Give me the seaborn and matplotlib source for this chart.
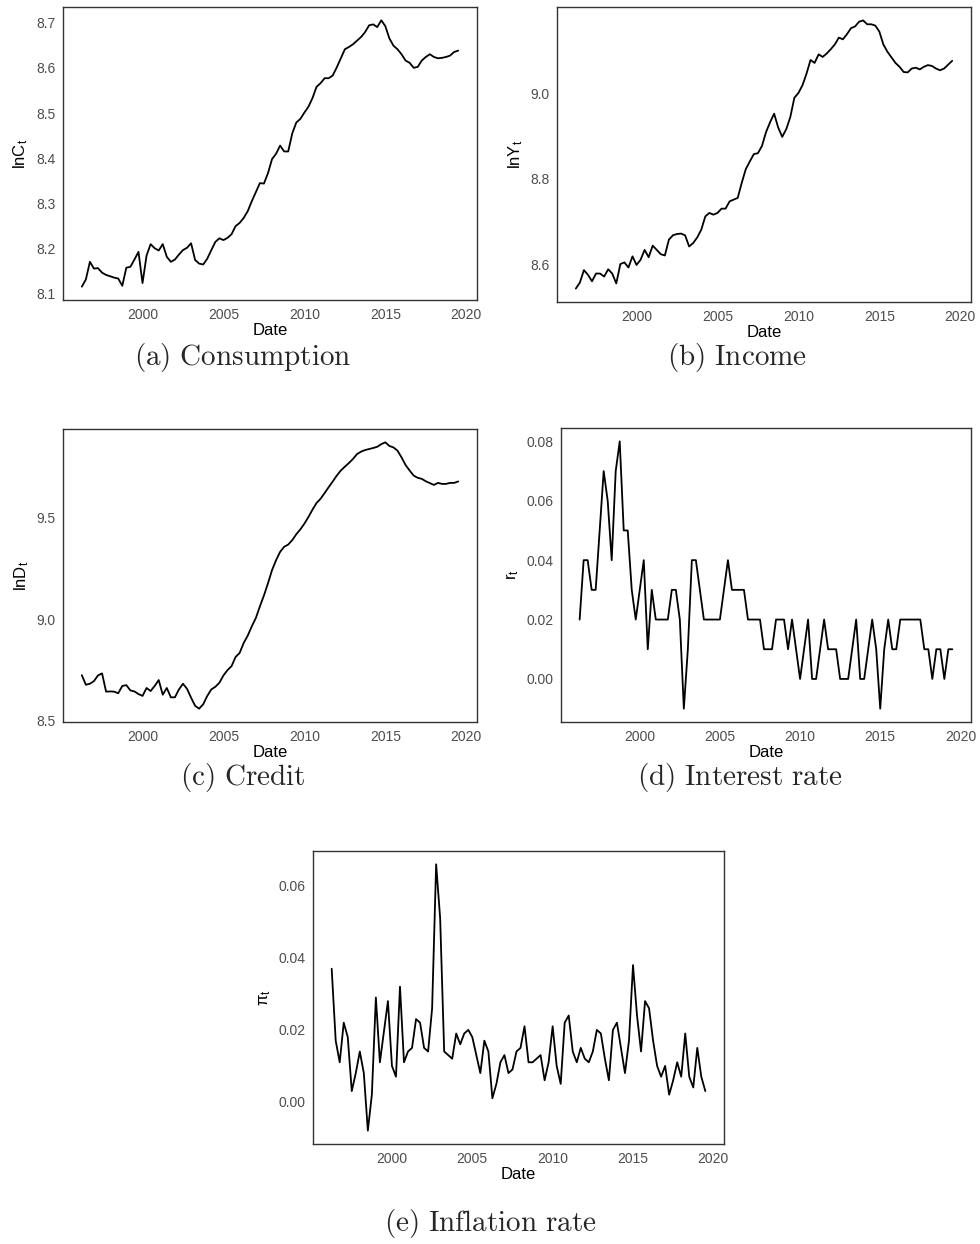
import numpy as np
import pandas as pd
import matplotlib
matplotlib.use("Agg")
import matplotlib.pyplot as plt
import seaborn as sns

# ---------------- data (quarterly, 1996 Q2 .. 2019 Q3) ----------------
n_q = 94
dates = [1996.25 + 0.25 * i for i in range(n_q)]

ln_c = [8.116, 8.132, 8.171, 8.156, 8.157, 8.147, 8.142, 8.139, 8.136, 8.134,
        8.118, 8.158, 8.160, 8.176, 8.193, 8.124, 8.185, 8.210, 8.201, 8.196,
        8.210, 8.182, 8.171, 8.176, 8.187, 8.197, 8.202, 8.212, 8.175, 8.167,
        8.165, 8.178, 8.197, 8.215, 8.223, 8.219, 8.224, 8.232, 8.250, 8.257,
        8.268, 8.283, 8.305, 8.325, 8.345, 8.344, 8.367, 8.398, 8.410, 8.428,
        8.415, 8.415, 8.455, 8.479, 8.487, 8.501, 8.514, 8.533, 8.558, 8.566,
        8.577, 8.577, 8.583, 8.601, 8.621, 8.641, 8.646, 8.652, 8.660, 8.668,
        8.679, 8.694, 8.696, 8.690, 8.705, 8.692, 8.665, 8.649, 8.641, 8.630,
        8.616, 8.611, 8.600, 8.602, 8.616, 8.624, 8.630, 8.624, 8.621, 8.622,
        8.624, 8.627, 8.635, 8.638]

ln_y = [8.545, 8.559, 8.588, 8.577, 8.562, 8.580, 8.580, 8.573, 8.590, 8.580,
        8.557, 8.602, 8.606, 8.594, 8.620, 8.600, 8.612, 8.635, 8.618, 8.645,
        8.635, 8.625, 8.622, 8.659, 8.669, 8.672, 8.673, 8.669, 8.643, 8.651,
        8.664, 8.682, 8.713, 8.721, 8.717, 8.721, 8.731, 8.731, 8.748, 8.752,
        8.756, 8.791, 8.823, 8.841, 8.858, 8.860, 8.877, 8.909, 8.932, 8.952,
        8.920, 8.898, 8.916, 8.944, 8.989, 9.000, 9.018, 9.045, 9.077, 9.070,
        9.090, 9.084, 9.092, 9.102, 9.113, 9.129, 9.125, 9.137, 9.151, 9.155,
        9.166, 9.169, 9.160, 9.160, 9.157, 9.143, 9.113, 9.096, 9.083, 9.070,
        9.061, 9.049, 9.048, 9.057, 9.059, 9.055, 9.061, 9.065, 9.063, 9.057,
        9.053, 9.057, 9.066, 9.075]

ln_d = [8.725, 8.678, 8.683, 8.696, 8.724, 8.734, 8.644, 8.645, 8.644, 8.636,
        8.672, 8.676, 8.650, 8.645, 8.632, 8.623, 8.662, 8.647, 8.672, 8.701,
        8.629, 8.662, 8.616, 8.616, 8.655, 8.683, 8.658, 8.614, 8.574, 8.560,
        8.582, 8.623, 8.655, 8.668, 8.688, 8.724, 8.750, 8.770, 8.815, 8.835,
        8.884, 8.920, 8.966, 9.007, 9.064, 9.118, 9.178, 9.243, 9.292, 9.333,
        9.358, 9.369, 9.391, 9.420, 9.444, 9.472, 9.505, 9.541, 9.574, 9.595,
        9.623, 9.652, 9.680, 9.709, 9.734, 9.753, 9.771, 9.791, 9.815, 9.827,
        9.835, 9.840, 9.845, 9.851, 9.864, 9.873, 9.855, 9.848, 9.832, 9.799,
        9.761, 9.734, 9.709, 9.698, 9.693, 9.681, 9.672, 9.663, 9.673, 9.668,
        9.668, 9.673, 9.673, 9.680]

r_t = [0.02, 0.04, 0.04, 0.03, 0.03, 0.05, 0.07, 0.06, 0.04, 0.07,
       0.08, 0.05, 0.05, 0.03, 0.02, 0.03, 0.04, 0.01, 0.03, 0.02,
       0.02, 0.02, 0.02, 0.03, 0.03, 0.02, -0.01, 0.01, 0.04, 0.04,
       0.03, 0.02, 0.02, 0.02, 0.02, 0.02, 0.03, 0.04, 0.03, 0.03,
       0.03, 0.03, 0.02, 0.02, 0.02, 0.02, 0.01, 0.01, 0.01, 0.02,
       0.02, 0.02, 0.01, 0.02, 0.01, 0.00, 0.01, 0.02, 0.00, 0.00,
       0.01, 0.02, 0.01, 0.01, 0.01, 0.00, 0.00, 0.00, 0.01, 0.02,
       0.00, 0.00, 0.01, 0.02, 0.01, -0.01, 0.01, 0.02, 0.01, 0.01,
       0.02, 0.02, 0.02, 0.02, 0.02, 0.02, 0.01, 0.01, 0.00, 0.01,
       0.01, 0.00, 0.01, 0.01]

pi_t = [0.037, 0.017, 0.011, 0.022, 0.018, 0.003, 0.008, 0.014, 0.008, -0.008,
        0.002, 0.029, 0.011, 0.0195, 0.028, 0.010, 0.007, 0.032, 0.011, 0.014,
        0.015, 0.023, 0.022, 0.015, 0.014, 0.026, 0.066, 0.051, 0.014, 0.013,
        0.012, 0.019, 0.016, 0.019, 0.020, 0.018, 0.013, 0.008, 0.017, 0.014,
        0.001, 0.005, 0.011, 0.013, 0.008, 0.009, 0.014, 0.015, 0.021, 0.011,
        0.011, 0.012, 0.013, 0.006, 0.011, 0.021, 0.010, 0.005, 0.022, 0.024,
        0.014, 0.011, 0.015, 0.012, 0.011, 0.014, 0.020, 0.019, 0.012, 0.006,
        0.020, 0.022, 0.015, 0.008, 0.017, 0.038, 0.024, 0.014, 0.028, 0.026,
        0.017, 0.010, 0.007, 0.010, 0.002, 0.006, 0.011, 0.007, 0.019, 0.007,
        0.004, 0.015, 0.007, 0.003]

x_ticks = [2000, 2005, 2010, 2015, 2020]
y_ticks_c = [8.1, 8.2, 8.3, 8.4, 8.5, 8.6, 8.7]
y_ticks_y = [8.6, 8.8, 9.0]
y_ticks_d = [8.5, 9.0, 9.5]
y_ticks_r = [0.00, 0.02, 0.04, 0.06, 0.08]
y_ticks_pi = [0.00, 0.02, 0.04, 0.06]

captions = ["(a) Consumption", "(b) Income", "(c) Credit",
            "(d) Interest rate", "(e) Inflation rate"]
y_labels = ["lnC$_{\\mathrm{t}}$", "lnY$_{\\mathrm{t}}$", "lnD$_{\\mathrm{t}}$",
            "r$_{\\mathrm{t}}$", "\u03c0$_{\\mathrm{t}}$"]

df = pd.DataFrame({"Date": dates, "lnC": ln_c, "lnY": ln_y, "lnD": ln_d,
                   "r": r_t, "pi": pi_t})

# ---------------- style ----------------
sns.set_style("white")
plt.rcParams["font.family"] = ["Liberation Sans", "DejaVu Sans"]
plt.rcParams["mathtext.fontset"] = "custom"
plt.rcParams["mathtext.rm"] = "Liberation Sans"
plt.rcParams["mathtext.it"] = "Liberation Sans:italic"
plt.rcParams["mathtext.bf"] = "Liberation Sans:bold"

W, H = 980, 1244
fig = plt.figure(figsize=(W / 100, H / 100), dpi=100)
fig.patch.set_facecolor("white")

# panel boxes in pixels: x0, x1, y0 (top), y1 (bottom)
boxes = [(63, 477, 7, 300), (557, 971, 7, 302), (63, 477, 429, 722),
         (561, 971, 428, 722), (313, 724, 851, 1144)]
cols = ["lnC", "lnY", "lnD", "r", "pi"]
yticks = [y_ticks_c, y_ticks_y, y_ticks_d, y_ticks_r, y_ticks_pi]
fmts = ["{:.1f}", "{:.1f}", "{:.1f}", "{:.2f}", "{:.2f}"]
cap_pos = [(243, 357), (737, 357), (243, 777), (740, 777), (490, 1223)]

xmin, xmax = min(dates), max(dates)
xr = xmax - xmin
edge = "#333333"

for k in range(5):
    x0, x1, y0, y1 = boxes[k]
    ax = fig.add_axes([x0 / W, 1 - y1 / H, (x1 - x0) / W, (y1 - y0) / H])
    sns.lineplot(data=df, x="Date", y=cols[k], ax=ax, color="black",
                 linewidth=1.3)
    vals = df[cols[k]]
    vr = vals.max() - vals.min()
    ax.set_ylim(vals.min() - 0.05 * vr, vals.max() + 0.05 * vr)
    ax.set_xlim(xmin - 0.05 * xr, xmax + 0.05 * xr)
    ax.set_xticks(x_ticks)
    ax.set_xticklabels([str(t) for t in x_ticks])
    ax.set_yticks(yticks[k])
    ax.set_yticklabels([fmts[k].format(t) for t in yticks[k]])
    ax.tick_params(axis="both", direction="out", length=3.5, width=1.0,
                   color=edge, labelcolor="#4D4D4D", labelsize=10, pad=2)
    for sp in ax.spines.values():
        sp.set_visible(True)
        sp.set_color(edge)
        sp.set_linewidth(1.0)
    ax.grid(False)
    ax.set_xlabel("Date", fontsize=12, color="black", labelpad=1)
    ax.set_ylabel(y_labels[k], fontsize=12, color="black", labelpad=4)
    cx, cy = cap_pos[k]
    fig.text(cx / W, 1 - cy / H, "$\\mathrm{" + captions[k].replace(" ", "\\ ") + "}$",
             ha="center", va="center", fontsize=21, math_fontfamily="cm")

fig.savefig("out.png", dpi=100, facecolor="white")
